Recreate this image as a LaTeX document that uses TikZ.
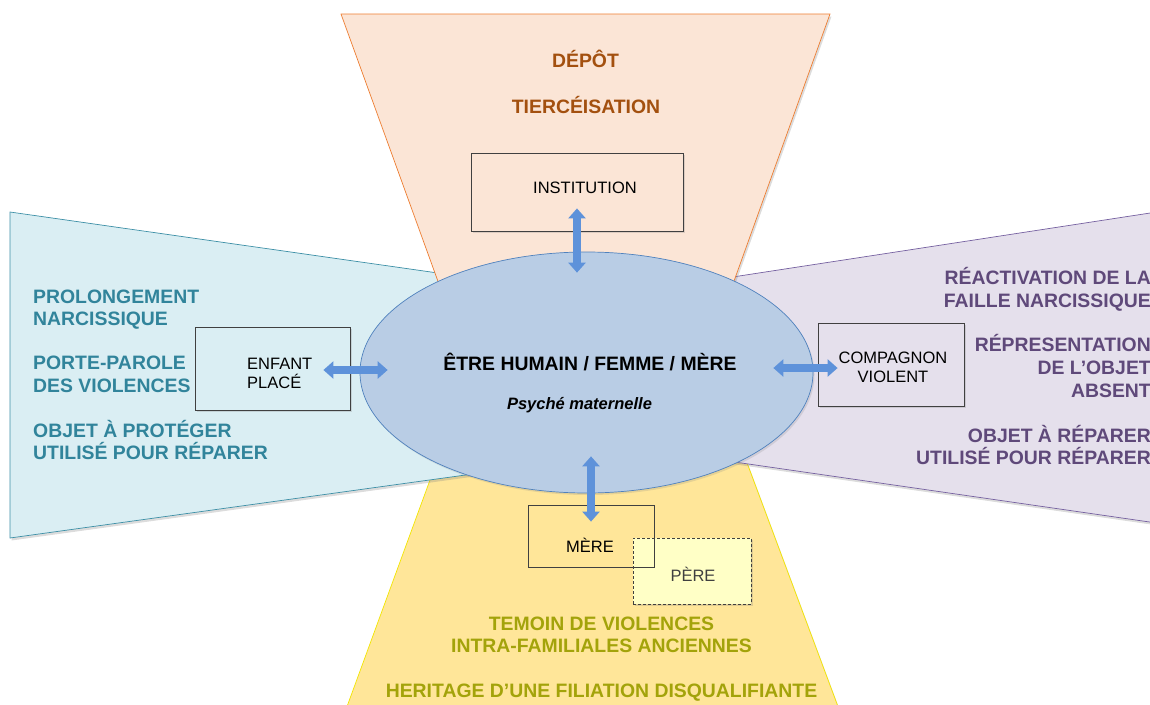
\documentclass[tikz,border=0pt]{standalone}
\usepackage{fontspec}
\setmainfont{Liberation Sans}
\usepackage{tikz}
\usepackage{xcolor}
\usetikzlibrary{shapes.geometric,arrows.meta,shadows}
\definecolor{depotfill}{HTML}{FBE5D6}
\definecolor{depotline}{HTML}{ED7D31}
\definecolor{depottext}{HTML}{A3500F}
\definecolor{enfantfill}{HTML}{DAEEF3}
\definecolor{enfantline}{HTML}{3C8FA6}
\definecolor{enfanttext}{HTML}{31849B}
\definecolor{compfill}{HTML}{E5E0EC}
\definecolor{compline}{HTML}{7560A0}
\definecolor{comptext}{HTML}{5F497A}
\definecolor{merefill}{HTML}{FFE699}
\definecolor{mereline}{HTML}{F2E500}
\definecolor{meretext}{HTML}{A3A30A}
\definecolor{perefill}{HTML}{FFFFC6}
\definecolor{egofill}{HTML}{B9CDE5}
\definecolor{egoline}{HTML}{4F81BD}
\definecolor{arrowblue}{HTML}{5E92DA}
\definecolor{boxline}{HTML}{404040}
\tikzset{
zone/.style={
  line width=0.7pt,
  drop shadow={shadow xshift=1.5pt,shadow yshift=-2.5pt,opacity=0.28}
},
boxed/.style={
  rectangle,draw=boxline,line width=0.8pt,inner sep=0pt,
  drop shadow={shadow xshift=1.5pt,shadow yshift=-1.5pt,opacity=0.25}
},
boxtext/.style={font=\fontsize{16.5}{19}\selectfont,inner sep=0pt},
biglabel/.style={font=\bfseries\fontsize{19.4}{22.5}\selectfont,inner sep=0pt},
blockarrow/.style={
  draw=arrowblue,line width=8pt,
  {Triangle[width=17pt,length=10pt]}-{Triangle[width=17pt,length=10pt]}
},
}
\begin{document}
\begin{tikzpicture}[x=1pt,y=-1pt]
\useasboundingbox (0,0) rectangle (1150,704);
% the four zones
\filldraw[zone,fill=merefill,draw=mereline]
  (452,420) -- (731,420) -- (840,712) -- (345,712) -- cycle;
\filldraw[zone,fill=enfantfill,draw=enfantline]
  (10,212) -- (480,279) -- (480,473) -- (10,538) -- cycle;
\filldraw[zone,fill=compfill,draw=compline]
  (700,282) -- (1160,211.5) -- (1160,523.5) -- (700,457) -- cycle;
\filldraw[zone,fill=depotfill,draw=depotline]
  (341,14) -- (830,14) -- (720,320) -- (452,320) -- cycle;
% the centre
\node[ellipse,draw=egoline,fill=egofill,line width=0.7pt,
  minimum width=453pt,minimum height=241pt,inner sep=0pt,
  drop shadow={shadow xshift=1.5pt,shadow yshift=-2pt,opacity=0.2}]
  (ego) at (586.5,372.5) {};
\node[biglabel,anchor=base] (ego-title) at (590,370) {ÊTRE HUMAIN / FEMME / MÈRE};
\node[boxtext,font=\bfseries\itshape\fontsize{16.5}{19}\selectfont,anchor=base]
  (ego-sub) at (579.5,409) {Psyché maternelle};
% the boxes
\node[boxed,fill=depotfill,minimum width=212pt,minimum height=78pt] (inst) at (577,192) {};
\node[boxed,fill=enfantfill,minimum width=155pt,minimum height=83pt] (enfant) at (272.5,368.5) {};
\node[boxed,fill=compfill,minimum width=146pt,minimum height=83pt] (compagnon) at (891,364.5) {};
\node[boxed,fill=perefill,dash pattern=on 3pt off 2pt,minimum width=118pt,minimum height=66pt] (pere) at (692,571) {};
\node[rectangle,draw=boxline,line width=0.8pt,minimum width=126pt,minimum height=62pt] (mere) at (591,536) {};
% the box texts (base of a two-line node is its last line)
\node[boxtext,anchor=base] (inst-txt) at (585,193) {INSTITUTION};
\node[boxtext,anchor=base west,align=left] (enfant-txt) at (247,388) {ENFANT\\PLACÉ};
\node[boxtext,anchor=base,align=center] (compagnon-txt) at (893,382) {COMPAGNON\\VIOLENT};
\node[boxtext,anchor=base] (mere-txt) at (590,552) {MÈRE};
\node[boxtext,anchor=base,text=boxline] (pere-txt) at (693,581) {PÈRE};
% the zone labels
\node[biglabel,text=depottext,anchor=base] (depot-1) at (585.5,67) {DÉPÔT};
\node[biglabel,text=depottext,anchor=base] (depot-2) at (586,113) {TIERCÉISATION};
\foreach \txt/\y [count=\i] in {PROLONGEMENT/303,NARCISSIQUE/325,PORTE-PAROLE/369,
  DES VIOLENCES/392,OBJET À PROTÉGER/437,UTILISÉ POUR RÉPARER/459}
{
  \node[biglabel,text=enfanttext,anchor=base west] (enfant-\i) at (33,\y) {\txt};
}
\foreach \txt/\y [count=\i] in {RÉACTIVATION DE LA/284,FAILLE NARCISSIQUE/307,
  RÉPRESENTATION/351,DE L’OBJET/374,ABSENT/397,OBJET À RÉPARER/442,UTILISÉ POUR RÉPARER/464}
{
  \node[biglabel,text=comptext,anchor=base east] (comp-\i) at (1151,\y) {\txt};
}
\foreach \txt/\y [count=\i] in {TEMOIN DE VIOLENCES/630,INTRA-FAMILIALES ANCIENNES/652,
  HERITAGE D’UNE FILIATION DISQUALIFIANTE/697}
{
  \node[biglabel,text=meretext,anchor=base] (mere-\i) at (601.5,\y) {\txt};
}
% the arrows
\draw[blockarrow] ([yshift=23pt]inst.south) -- ([yshift=-21pt]inst.south |- ego.north);
\draw[blockarrow] ([xshift=-27pt,yshift=-1.5pt]enfant.east) -- ([xshift=28pt,yshift=-1.5pt]ego.west |- enfant.east);
\draw[blockarrow] ([xshift=-40pt,yshift=-3.5pt]ego.east |- compagnon.west) -- ([xshift=20pt,yshift=-3.5pt]compagnon.west);
\draw[blockarrow] ([yshift=37pt]mere.north |- ego.south) -- ([yshift=-17pt]mere.north);
\end{tikzpicture}
\end{document}
